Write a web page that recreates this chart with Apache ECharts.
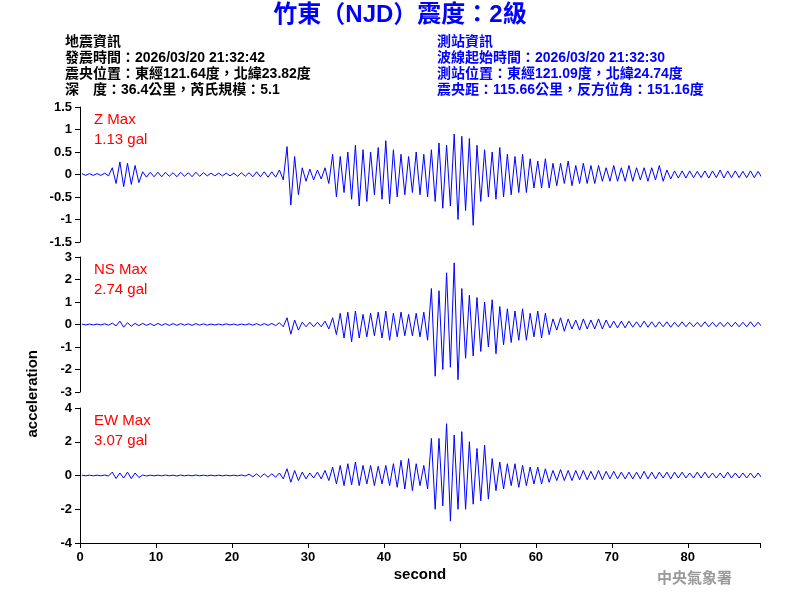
<!DOCTYPE html>
<html>
<head>
<meta charset="utf-8">
<script src="https://cdn.jsdelivr.net/npm/echarts@6/dist/echarts.min.js"></script>
<style>html,body{margin:0;padding:0;background:#fff}#main{width:800px;height:600px}</style>
</head>
<body>
<div id="main"></div>
<script>
// per-second peak (up) and trough (down) amplitudes, gal, seconds 0..89
var zUp = [0.02,0.02,0.02,0.03,0.15,0.28,0.25,0.2,0.06,0.05,0.05,0.05,0.04,0.05,0.04,0.05,0.04,0.03,0.03,0.03,0.03,0.04,0.04,0.06,0.06,0.06,0.1,0.62,0.4,0.15,
  0.12,0.1,0.15,0.45,0.4,0.5,0.65,0.55,0.5,0.6,0.75,0.55,0.45,0.4,0.5,0.45,0.55,0.7,0.65,0.9,0.85,0.8,0.65,0.55,0.5,0.6,0.45,0.4,0.45,0.35,
  0.3,0.35,0.25,0.25,0.3,0.2,0.25,0.2,0.2,0.15,0.2,0.15,0.2,0.15,0.15,0.15,0.2,0.1,0.08,0.08,0.08,0.07,0.08,0.08,0.1,0.08,0.08,0.07,0.08,0.07];
var zDown = [-0.02,-0.02,-0.02,-0.03,-0.2,-0.27,-0.22,-0.18,-0.06,-0.05,-0.05,-0.04,-0.05,-0.04,-0.05,-0.04,-0.03,-0.03,-0.03,-0.03,-0.04,-0.04,-0.05,-0.05,-0.06,-0.06,-0.12,-0.68,-0.45,-0.15,
  -0.12,-0.1,-0.2,-0.5,-0.4,-0.55,-0.7,-0.6,-0.45,-0.55,-0.65,-0.5,-0.45,-0.4,-0.45,-0.5,-0.6,-0.75,-0.7,-1.0,-0.8,-1.13,-0.6,-0.5,-0.55,-0.5,-0.45,-0.4,-0.4,-0.3,
  -0.3,-0.3,-0.25,-0.2,-0.25,-0.2,-0.2,-0.2,-0.15,-0.15,-0.15,-0.15,-0.15,-0.12,-0.15,-0.12,-0.15,-0.1,-0.08,-0.08,-0.07,-0.07,-0.08,-0.07,-0.08,-0.07,-0.07,-0.07,-0.07,-0.07];
var nsUp = [0.02,0.02,0.02,0.03,0.06,0.15,0.08,0.05,0.05,0.04,0.05,0.04,0.04,0.04,0.03,0.04,0.03,0.02,0.02,0.03,0.02,0.02,0.03,0.04,0.04,0.05,0.08,0.3,0.2,0.1,
  0.1,0.1,0.15,0.3,0.5,0.55,0.6,0.45,0.5,0.55,0.6,0.5,0.55,0.45,0.5,0.55,1.6,1.5,2.3,2.74,1.6,1.3,1.2,1.0,1.1,0.8,0.7,0.6,0.7,0.5,
  0.6,0.5,0.25,0.3,0.25,0.2,0.25,0.2,0.25,0.2,0.15,0.15,0.15,0.12,0.15,0.12,0.12,0.12,0.1,0.12,0.1,0.1,0.12,0.1,0.1,0.1,0.1,0.1,0.12,0.1];
var nsDown = [-0.02,-0.02,-0.02,-0.03,-0.06,-0.12,-0.08,-0.05,-0.04,-0.05,-0.04,-0.04,-0.04,-0.03,-0.04,-0.03,-0.03,-0.02,-0.02,-0.02,-0.03,-0.02,-0.03,-0.04,-0.04,-0.05,-0.1,-0.43,-0.25,-0.1,
  -0.1,-0.1,-0.2,-0.45,-0.6,-0.77,-0.6,-0.55,-0.5,-0.6,-0.7,-0.55,-0.5,-0.5,-0.55,-0.7,-2.3,-2.0,-1.9,-2.45,-1.5,-1.4,-1.2,-1.0,-1.3,-0.9,-0.8,-0.7,-0.7,-0.55,
  -0.6,-0.45,-0.25,-0.3,-0.2,-0.25,-0.2,-0.2,-0.2,-0.15,-0.15,-0.15,-0.12,-0.12,-0.12,-0.12,-0.1,-0.12,-0.1,-0.1,-0.1,-0.1,-0.1,-0.1,-0.1,-0.1,-0.1,-0.1,-0.1,-0.1];
var ewUp = [0.02,0.02,0.02,0.03,0.2,0.15,0.2,0.15,0.03,0.02,0.02,0.03,0.02,0.03,0.02,0.03,0.02,0.02,0.02,0.02,0.02,0.03,0.08,0.1,0.1,0.1,0.15,0.4,0.3,0.2,
  0.15,0.2,0.3,0.5,0.6,0.7,0.8,0.6,0.6,0.55,0.6,0.7,0.9,1.0,0.7,0.6,2.2,2.2,3.07,2.4,2.6,2.0,1.6,1.8,1.0,0.8,0.7,0.7,0.6,0.5,
  0.5,0.4,0.3,0.35,0.3,0.3,0.3,0.25,0.3,0.25,0.25,0.2,0.2,0.2,0.25,0.2,0.2,0.2,0.2,0.2,0.15,0.2,0.2,0.15,0.15,0.2,0.15,0.15,0.15,0.15];
var ewDown = [-0.02,-0.02,-0.02,-0.03,-0.18,-0.15,-0.18,-0.12,-0.03,-0.02,-0.02,-0.02,-0.03,-0.02,-0.02,-0.02,-0.02,-0.02,-0.02,-0.02,-0.02,-0.03,-0.08,-0.1,-0.1,-0.1,-0.2,-0.4,-0.3,-0.2,
  -0.15,-0.2,-0.3,-0.5,-0.6,-0.55,-0.6,-0.5,-0.6,-0.5,-0.6,-0.7,-0.8,-0.9,-0.6,-0.8,-2.0,-1.8,-2.7,-2.0,-2.0,-1.7,-1.5,-1.4,-0.9,-0.8,-0.6,-0.7,-0.6,-0.5,
  -0.5,-0.4,-0.3,-0.3,-0.3,-0.25,-0.25,-0.25,-0.25,-0.2,-0.2,-0.2,-0.2,-0.2,-0.2,-0.2,-0.15,-0.2,-0.15,-0.15,-0.15,-0.15,-0.15,-0.15,-0.15,-0.15,-0.15,-0.15,-0.15,-0.15];

var channels = ['Z', 'NS', 'EW'];
var maxText = ['1.13 gal', '2.74 gal', '3.07 gal'];
var yRange = [1.5, 3, 4];
var yStep = [0.5, 1, 2];
var xTicks = [0, 10, 20, 30, 40, 50, 60, 70, 80];

function trace(up, down) {
  var pts = [];
  for (var i = 0; i < up.length; i++) {
    pts.push([i + 0.25, up[i]]);
    pts.push([i + 0.75, down[i]]);
  }
  return pts;
}
var traces = [trace(zUp, zDown), trace(nsUp, nsDown), trace(ewUp, ewDown)];

var tops = [107, 257, 408];
var grid = [], xAxis = [], yAxis = [], series = [], graphic = [];
var black = '#000';
for (var k = 0; k < 3; k++) {
  grid.push({left: 80, right: 40, top: tops[k], height: 135});
  var last = k == 2;
  xAxis.push({
    type: 'value', gridIndex: k, min: 0, max: 89.5, interval: 10,
    axisLine: {show: last, onZero: false, lineStyle: {color: black}},
    axisTick: {show: last, length: 5, lineStyle: {color: black}},
    axisLabel: {show: last, color: black, fontFamily: 'Arial', fontSize: 13, fontWeight: 'bold',
      customValues: xTicks},
    splitLine: {show: false},
    name: last ? 'second' : '', nameLocation: 'middle', nameGap: 24,
    nameTextStyle: {color: black, fontFamily: 'Arial', fontSize: 15, fontWeight: 'bold'}
  });
  yAxis.push({
    type: 'value', gridIndex: k, min: -yRange[k], max: yRange[k], interval: yStep[k],
    axisLine: {show: true, lineStyle: {color: black}},
    axisTick: {show: true, length: 5, lineStyle: {color: black}},
    axisLabel: {color: black, fontFamily: 'Arial', fontSize: 13, fontWeight: 'bold', margin: 8},
    splitLine: {show: false}
  });
  series.push({
    type: 'line', xAxisIndex: k, yAxisIndex: k, data: traces[k],
    symbol: 'none', silent: true, animation: false,
    lineStyle: {color: '#0000ff', width: 1}
  });
  graphic.push({type: 'text', left: 94, top: tops[k] + 3,
    style: {text: channels[k] + ' Max\n' + maxText[k], fill: '#ff0000', font: '15px Arial', lineHeight: 20}});
}

var fontCJK = 'Arial, "Noto Sans CJK TC"';
graphic.push(
  {type: 'text', left: 'center', top: 3,
    style: {text: '竹東（NJD）震度：2級', fill: '#0000ff', font: 'bold 24px ' + fontCJK}},
  {type: 'text', left: 65, top: 34,
    style: {text: '地震資訊\n發震時間：2026/03/20 21:32:42\n震央位置：東經121.64度，北緯23.82度\n深　度：36.4公里，芮氏規模：5.1',
      fill: black, font: 'bold 14px ' + fontCJK, lineHeight: 16}},
  {type: 'text', left: 437, top: 34,
    style: {text: '測站資訊\n波線起始時間：2026/03/20 21:32:30\n測站位置：東經121.09度，北緯24.74度\n震央距：115.66公里，反方位角：151.16度',
      fill: '#0000ff', font: 'bold 14px ' + fontCJK, lineHeight: 16}},
  {type: 'text', left: 25, top: 350, rotation: Math.PI / 2,
    style: {text: 'acceleration', fill: black, font: 'bold 15px Arial'}},
  {type: 'text', left: 657, top: 571,
    style: {text: '中央氣象署', fill: '#999999', font: 'bold 15px ' + fontCJK}}
);

var chart = echarts.init(document.getElementById('main'));
chart.setOption({
  animation: false,
  grid: grid, xAxis: xAxis, yAxis: yAxis, series: series, graphic: graphic
});
</script>
</body>
</html>
